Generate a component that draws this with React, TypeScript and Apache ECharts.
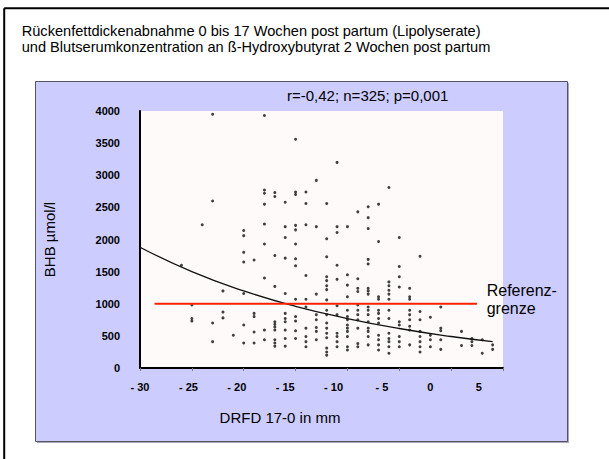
import React, { useEffect, useRef } from "react";
import * as echarts from "echarts";

// DRFD columns (mm) and BHB values (µmol/l)
const columns = [-26, -25, -24, -23, -22, -21, -20, -19, -18, -17, -16, -15, -14, -13, -12, -11, -10, -9, -8, -7, -6, -5, -4, -3, -2, -1, 1, 2, 3, 4];
const columnValues: number[][] = [
  [1600],
  [980, 770, 730],
  [2230],
  [3950, 2600, 700, 410],
  [1200, 870, 780],
  [510],
  [2140, 2060, 1800, 1650, 1160, 670, 390],
  [1680, 850, 800, 560, 390],
  [3930, 2770, 2720, 2550, 2240, 1930, 1400, 590, 440],
  [2730, 2670, 1750, 1270, 720, 680, 640, 590, 440, 390, 340],
  [2580, 2200, 2030, 1710, 1160, 850, 770, 720, 590, 460, 340],
  [3560, 2740, 2700, 2220, 2150, 1930, 1700, 1590, 1070, 800, 730, 580, 460],
  [2740, 2560, 2230, 1440, 1070, 950, 620, 490, 410, 330],
  [2920, 2200, 1150, 830, 750, 630, 570, 440],
  [2560, 2010, 1730, 1420, 1360, 1280, 1220, 1060, 900, 830, 700, 620, 540, 470, 310, 250, 200],
  [3200, 2200, 2110, 1600, 1380, 970, 830, 540, 490, 410, 330],
  [2200, 1450, 1290, 1110, 900, 800, 750, 670, 620, 570, 490, 330, 280],
  [2430, 1390, 1240, 1190, 980, 900, 830, 750, 620, 380, 330],
  [2510, 2340, 2170, 1690, 1620, 1240, 1200, 1150, 950, 900, 830, 720, 620, 570, 490, 360],
  [2550, 1970, 1110, 1070, 900, 850, 770, 700, 510, 440, 360, 280],
  [2810, 1340, 1280, 1210, 1150, 1070, 900, 770, 540, 460, 410, 330, 230],
  [2030, 1580, 1420, 1260, 720, 670, 490, 410, 330],
  [1240, 1110, 1070, 900, 830, 750, 650, 590, 360],
  [1740, 880, 750, 570, 490, 410, 330, 250],
  [790, 510, 440, 330],
  [950, 620, 580, 440, 290],
  [570, 350],
  [460, 410, 350],
  [440, 230],
  [360, 290],
];

// fitted trend curve
const trendX = [-30, -25, -20, -15, -10, -5, 0, 4];
const trendY = [1880, 1500, 1200, 960, 770, 615, 490, 410];

// reference limit line
const refX = [-28.6, 2.5];
const refY = [1000, 1000];

const titleLines = [
  "Rückenfettdickenabnahme 0 bis 17 Wochen post partum (Lipolyserate)",
  "und Blutserumkonzentration an ß-Hydroxybutyrat 2 Wochen post partum",
];
const statsText = "r=-0,42; n=325; p=0,001";
const refLabel = "Referenz-\ngrenze";
const xName = "DRFD 17-0 in mm";
const yName = "BHB µmol/l";

const FONT = "'Liberation Sans', Arial, sans-serif";

export default function App() {
  const ref = useRef<HTMLDivElement>(null);
  useEffect(() => {
    document.body.style.margin = "0";
    document.body.style.overflow = "hidden";
    const chart = echarts.init(ref.current!, null, { renderer: "svg" });
    const points: number[][] = [];
    columns.forEach((c, i) => columnValues[i].forEach((v) => points.push([c, v])));
    const fmtX = (v: number) => (v % 5 !== 0 ? "" : v < 0 ? "- " + -v : String(v));
    chart.setOption({
      animation: false,
      grid: {
        left: 140,
        top: 111,
        width: 363,
        height: 257,
        show: true,
        backgroundColor: "#fffafa",
        borderWidth: 0,
      },
      xAxis: [
        {
          type: "value",
          min: -30,
          max: 5,
          interval: 5,
          position: "bottom",
          axisLine: { show: true, onZero: false, lineStyle: { color: "#000", width: 2 } },
          axisTick: { show: true, length: 3, lineStyle: { color: "#777" } },
          axisLabel: { show: false },
          splitLine: { show: false },
        },
        {
          type: "value",
          min: -30,
          max: 7.5,
          interval: 5,
          position: "bottom",
          axisLine: { show: false, onZero: false },
          axisTick: { show: false },
          splitLine: { show: false },
          axisLabel: {
            show: true,
            margin: 13,
            formatter: fmtX,
            color: "#000",
            fontSize: 11,
            fontWeight: "bold",
            fontFamily: FONT,
          },
        },
      ],
      yAxis: {
        type: "value",
        min: 0,
        max: 4000,
        interval: 500,
        name: yName,
        nameLocation: "middle",
        nameRotate: 90,
        nameGap: 83,
        nameTextStyle: { fontSize: 15, color: "#000", fontFamily: FONT },
        axisLine: { show: true, onZero: false, lineStyle: { color: "#000", width: 2 } },
        axisTick: { show: false },
        splitLine: { show: false },
        axisLabel: {
          margin: 20,
          color: "#000",
          fontSize: 11,
          fontWeight: "bold",
          fontFamily: FONT,
          formatter: (v: number) => String(v),
        },
      },
      graphic: [
        { type: "rect", z: -100, shape: { x: 37, y: 83, width: 532, height: 360 }, style: { fill: "#a8a8b8" } },
        { type: "rect", z: -99, shape: { x: 35.5, y: 81.5, width: 532, height: 360 }, style: { fill: "#ccccff", stroke: "#555566", lineWidth: 1 } },
        { type: "line", shape: { x1: 4.2, y1: 8.3, x2: 4.2, y2: 459 }, style: { stroke: "#000", lineWidth: 2 } },
        { type: "line", shape: { x1: 4.2, y1: 8.3, x2: 609, y2: 8.3 }, style: { stroke: "#000", lineWidth: 2 } },
        {
          type: "text", x: 21.7, y: 31,
          style: { text: titleLines[0], fontSize: 14.6, fontFamily: FONT, fill: "#000", align: "left", verticalAlign: "middle" },
        },
        {
          type: "text", x: 21.7, y: 47.4,
          style: { text: titleLines[1], fontSize: 14.6, fontFamily: FONT, fill: "#000", align: "left", verticalAlign: "middle" },
        },
        {
          type: "text", x: 287, y: 95.7,
          style: { text: statsText, fontSize: 15, fontFamily: FONT, fill: "#000", align: "left", verticalAlign: "middle" },
        },
        {
          type: "text", x: 486.7, y: 299.5,
          style: { text: refLabel, fontSize: 16, lineHeight: 17.6, fontFamily: FONT, fill: "#000", align: "left", verticalAlign: "middle" },
        },
        {
          type: "text", x: 280, y: 417,
          style: { text: xName, fontSize: 15, fontFamily: FONT, fill: "#000", align: "center", verticalAlign: "middle" },
        },
      ],
      series: [
        {
          type: "scatter",
          xAxisIndex: 0,
          data: points,
          symbol: "circle",
          symbolSize: 3,
          itemStyle: { color: "#111" },
        },
        {
          type: "line",
          xAxisIndex: 0,
          data: trendX.map((x, i) => [x, trendY[i]]),
          smooth: true,
          symbol: "none",
          lineStyle: { color: "#111", width: 1.3 },
        },
        {
          type: "line",
          xAxisIndex: 0,
          data: refX.map((x, i) => [x, refY[i]]),
          symbol: "none",
          lineStyle: { color: "#ff2200", width: 2.2 },
        },
      ],
    });
    return () => chart.dispose();
  }, []);
  return <div ref={ref} style={{ width: 609, height: 459 }} />;
}
